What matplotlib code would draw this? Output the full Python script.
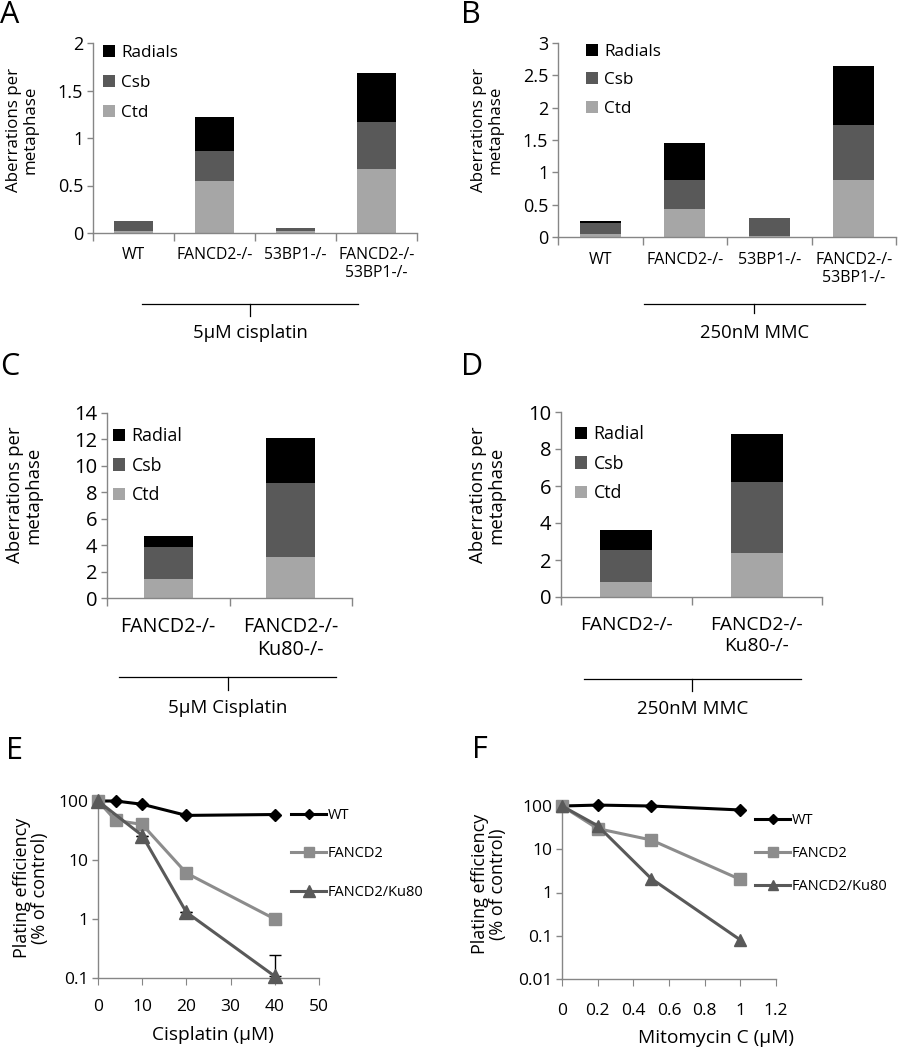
import numpy as np
import matplotlib
matplotlib.use("Agg")
import matplotlib.pyplot as plt

plt.rcParams['font.family'] = ['Open Sans', 'DejaVu Sans']

W, H = 898, 1050

# ---- data ----
geno_ab = ["WT", "FANCD2-/-", "53BP1-/-", "FANCD2-/-\n53BP1-/-"]
a_ctd = [0.02, 0.55, 0.02, 0.67]
a_csb = [0.11, 0.31, 0.03, 0.50]
a_rad = [0.00, 0.36, 0.00, 0.51]
b_ctd = [0.05, 0.44, 0.01, 0.88]
b_csb = [0.17, 0.44, 0.28, 0.85]
b_rad = [0.02, 0.58, 0.00, 0.91]

geno_cd = ["FANCD2-/-", "FANCD2-/-\nKu80-/-"]
c_ctd = [1.46, 3.08]
c_csb = [2.40, 5.65]
c_rad = [0.86, 3.38]
d_ctd = [0.81, 2.38]
d_csb = [1.75, 3.84]
d_rad = [1.08, 2.57]

cis_dose = [0, 4, 10, 20, 40]
cis_wt = [100, 100, 88, 57, 59]
cis_fancd2 = [100, 47, 40, 6.0, 1.0]
cis_ku_dose = [0, 10, 20, 40]
cis_ku = [100, 26, 1.3, 0.107]
cis_ku_err_up = [0, 0, 0, 0.143]

mmc_dose = [0, 0.2, 0.5, 1.0]
mmc_wt = [100, 105, 100, 81]
mmc_fancd2 = [100, 30, 16.4, 2.0]
mmc_ku = [100, 35, 2.1, 0.08]

C_RAD, C_CSB, C_CTD = '#000000', '#595959', '#a6a6a6'
C_WT, C_F, C_FK = '#000000', '#8c8c8c', '#595959'
AX_GRAY = '#868686'

fig = plt.figure(figsize=(W / 100, H / 100), dpi=100)


def px_axes(left, top, right, bottom):
    return fig.add_axes([left / W, 1 - bottom / H, (right - left) / W, (bottom - top) / H])


def style_axes(ax, tick_fs):
    for s in ['top', 'right']:
        ax.spines[s].set_visible(False)
    for s in ['left', 'bottom']:
        ax.spines[s].set_color(AX_GRAY)
        ax.spines[s].set_linewidth(1.0)
    ax.tick_params(which='both', color=AX_GRAY, labelsize=tick_fs, direction='out')
    ax.tick_params(axis='y', length=4, width=1.0, pad=3)


def stacked(ax, labels, ctd, csb, rad, ymax, yticks, width, tick_fs, cat_fs,
            leg_labels, leg_fs, leg_xy, leg_space, cat_pad):
    x = np.arange(len(labels))
    ctd, csb, rad = map(np.array, (ctd, csb, rad))
    b1 = ax.bar(x, ctd, width, color=C_CTD, label=leg_labels[2])
    b2 = ax.bar(x, csb, width, bottom=ctd, color=C_CSB, label=leg_labels[1])
    b3 = ax.bar(x, rad, width, bottom=ctd + csb, color=C_RAD, label=leg_labels[0])
    ax.set_xlim(-0.5, len(labels) - 0.5)
    ax.set_ylim(0, ymax)
    ax.set_yticks(yticks)
    ax.set_yticklabels([('%g' % v) for v in yticks])
    style_axes(ax, tick_fs)
    ax.set_xticks(np.arange(len(labels) + 1) - 0.5)
    ax.set_xticklabels([])
    ax.set_xticks(x, minor=True)
    ax.set_xticklabels(labels, minor=True, fontsize=cat_fs, linespacing=1.15)
    ax.tick_params(axis='x', which='major', length=6, width=1.0)
    ax.tick_params(axis='x', which='minor', length=0, pad=cat_pad)
    ax.legend(handles=[b3, b2, b1], loc='upper left', frameon=False,
              bbox_to_anchor=(leg_xy[0] / W, 1 - leg_xy[1] / H),
              bbox_transform=fig.transFigure, fontsize=leg_fs,
              handlelength=0.7, handleheight=0.7, handletextpad=0.35,
              labelspacing=leg_space, borderpad=0, borderaxespad=0)


# ---- A ----
axA = px_axes(93, 43, 417, 233)
stacked(axA, geno_ab, a_ctd, a_csb, a_rad, 2, [0, 0.5, 1, 1.5, 2], 0.49, 13, 11.3,
        ['Radials', 'Csb', 'Ctd'], 12.3, (103, 45), 0.83, 10)
# ---- B ----
axB = px_axes(558, 43, 896, 237)
stacked(axB, geno_ab, b_ctd, b_csb, b_rad, 3, [0, 0.5, 1, 1.5, 2, 2.5, 3], 0.48, 13, 11.5,
        ['Radials', 'Csb', 'Ctd'], 12.3, (586, 44), 0.72, 11)
# ---- C ----
axC = px_axes(107, 413, 352, 598)
stacked(axC, geno_cd, c_ctd, c_csb, c_rad, 14, list(range(0, 15, 2)), 0.40, 14.5, 14.2,
        ['Radial', 'Csb', 'Ctd'], 12.8, (113, 427), 0.66, 14)
# ---- D ----
axD = px_axes(561, 412, 822, 597)
stacked(axD, geno_cd, d_ctd, d_csb, d_rad, 10, list(range(0, 11, 2)), 0.40, 14.5, 13.8,
        ['Radial', 'Csb', 'Ctd'], 12.8, (575, 425), 0.66, 14)

# ---- E ----
axE = px_axes(98, 801, 319, 978)
axE.plot(cis_dose, cis_wt, color=C_WT, lw=2.2, marker='D', ms=6, clip_on=False, label='WT', zorder=3)
axE.plot(cis_dose, cis_fancd2, color=C_F, lw=2.2, marker='s', ms=9, clip_on=False, label='FANCD2', zorder=4)
axE.errorbar(cis_ku_dose, cis_ku, yerr=[np.zeros(len(cis_ku)), cis_ku_err_up], fmt='none',
             ecolor='black', elinewidth=1, capsize=4, capthick=1, zorder=2)
axE.plot(cis_ku_dose, cis_ku, color=C_FK, lw=2.2, marker='^', ms=10, clip_on=False,
         label='FANCD2/Ku80', zorder=5)
axE.set_yscale('log')
axE.set_ylim(0.1, 100)
axE.set_xlim(0, 50)
axE.set_xticks(range(0, 51, 10))
axE.set_yticks([0.1, 1, 10, 100])
axE.set_yticklabels(['0.1', '1', '10', '100'])
axE.minorticks_off()
style_axes(axE, 12.5)
axE.tick_params(axis='x', length=5, pad=10)
axE.legend(loc='upper left', frameon=False, bbox_to_anchor=(291 / W, 1 - 808 / H),
           bbox_transform=fig.transFigure, fontsize=10.5, handlelength=2.4,
           handletextpad=0.1, labelspacing=1.6, borderpad=0, borderaxespad=0, numpoints=1,
           markerscale=0.85)

# ---- F ----
axF = px_axes(562, 806, 776, 979)
axF.plot(mmc_dose, mmc_wt, color=C_WT, lw=2.2, marker='D', ms=6, clip_on=False, label='WT', zorder=3)
axF.plot(mmc_dose, mmc_fancd2, color=C_F, lw=2.2, marker='s', ms=8.5, clip_on=False, label='FANCD2', zorder=4)
axF.plot(mmc_dose, mmc_ku, color=C_FK, lw=2.2, marker='^', ms=9, clip_on=False, label='FANCD2/Ku80', zorder=5)
axF.set_yscale('log')
axF.set_ylim(0.01, 100)
axF.set_xlim(0, 1.2)
axF.set_xticks([0, 0.2, 0.4, 0.6, 0.8, 1.0, 1.2])
axF.set_xticklabels(['0', '0.2', '0.4', '0.6', '0.8', '1', '1.2'])
axF.set_yticks([0.01, 0.1, 1, 10, 100])
axF.set_yticklabels(['0.01', '0.1', '1', '10', '100'])
axF.minorticks_off()
style_axes(axF, 12.5)
axF.tick_params(axis='x', length=5, pad=12)
axF.legend(loc='upper left', frameon=False, bbox_to_anchor=(755 / W, 1 - 813 / H),
           bbox_transform=fig.transFigure, fontsize=10.5, handlelength=2.4,
           handletextpad=0.1, labelspacing=1.25, borderpad=0, borderaxespad=0, numpoints=1,
           markerscale=0.85)

# ---- overlay: panel letters, y-labels, brackets, treatment labels ----
ov = fig.add_axes([0, 0, 1, 1], facecolor='none')
ov.set_xlim(0, W)
ov.set_ylim(H, 0)
ov.axis('off')

for letter, x, y in [('A', 0, 15), ('B', 461, 15), ('C', 0, 367), ('D', 461, 367),
                     ('E', 6, 751), ('F', 472, 750)]:
    ov.text(x, y, letter, fontsize=22, ha='left', va='center')

ylab = 'Aberrations per\nmetaphase'
ylab2 = 'Plating efficiency\n(% of control)'
for txt, x, y, fs in [(ylab, 22, 130, 12.2), (ylab, 487, 130, 12.2), (ylab, 24, 495, 13.4),
                      (ylab, 487, 495, 13.4), (ylab2, 31, 888, 13), (ylab2, 489, 884, 13)]:
    ov.text(x, y, txt, fontsize=fs, rotation=90, ha='center', va='center',
            multialignment='center', linespacing=1.05)

for x0, x1, y, xt, yt_end, label, ly, fs in [
        (142, 358, 304, 250, 316, '5\u00b5M cisplatin', 333, 13.3),
        (644, 865, 304, 754, 313, '250nM MMC', 333, 13.3),
        (119, 336, 677, 228, 690, '5\u00b5M Cisplatin', 708, 13.5),
        (584, 801, 679, 692, 691, '250nM MMC', 709, 13.5)]:
    ov.plot([x0, x1], [y, y], color='black', lw=0.9)
    ov.plot([xt, xt], [y, yt_end], color='black', lw=0.9)
    ov.text((x0 + x1) / 2, ly, label, fontsize=fs, ha='center', va='center')

ov.text(213, 1035, 'Cisplatin (\u00b5M)', fontsize=13.8, ha='center', va='center')
ov.text(716, 1038, 'Mitomycin C (\u00b5M)', fontsize=13.8, ha='center', va='center')

fig.savefig('out.png', dpi=100)
